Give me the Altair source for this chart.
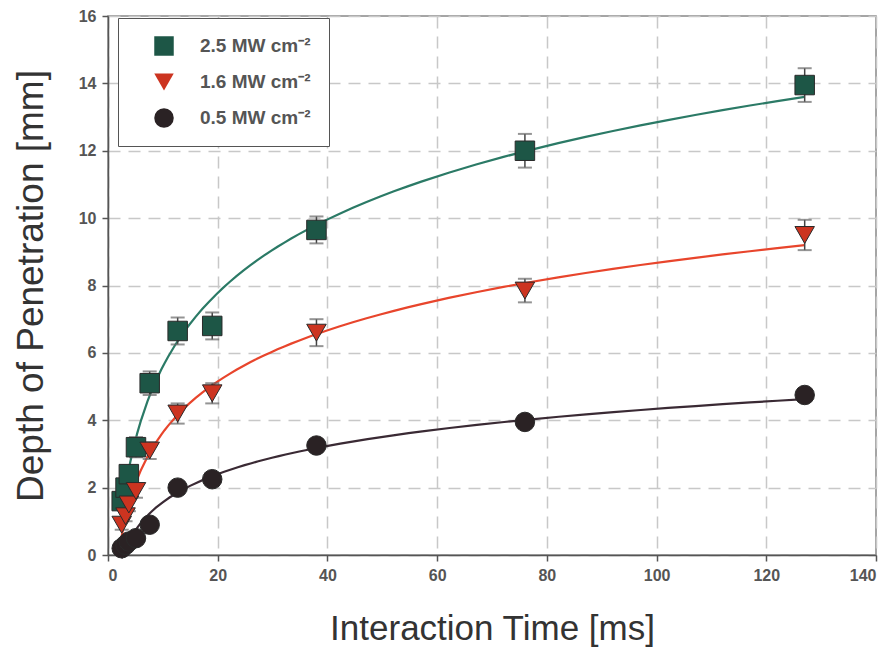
import altair as alt
import pandas as pd

times = [2.5, 3.2, 3.8, 5.1, 7.6, 12.7, 19, 38, 76, 127]
series_names = ["2.5 MW cm⁻²", "1.6 MW cm⁻²", "0.5 MW cm⁻²"]
depth_25 = [1.6, 2.0, 2.4, 3.2, 5.1, 6.65, 6.8, 9.65, 12.0, 13.95]
err_25 = [0.2, 0.2, 0.25, 0.3, 0.35, 0.4, 0.4, 0.4, 0.5, 0.5]
depth_16 = [0.9, 1.15, 1.5, 1.9, 3.1, 4.2, 4.8, 6.6, 7.85, 9.5]
err_16 = [0.15, 0.15, 0.2, 0.2, 0.25, 0.3, 0.3, 0.4, 0.35, 0.45]
depth_05 = [0.2, 0.3, 0.4, 0.5, 0.9, 2.0, 2.25, 3.25, 3.95, 4.75]
err_05 = [0.05, 0.05, 0.05, 0.05, 0.1, 0.1, 0.1, 0.1, 0.1, 0.1]

fill_colors = ["#1d5646", "#cc3420", "#2a2224"]
line_colors = ["#2b7a66", "#e8452c", "#3a2a34"]
shapes = ["square", "triangle-down", "circle"]
fit_start = [2.2, 2.2, 2.5]

rows = []
for name, d, e in zip(series_names, [depth_25, depth_16, depth_05], [err_25, err_16, err_05]):
    for t, v, s in zip(times, d, e):
        rows.append({"series": name, "t": t, "d": v, "lo": v - s, "hi": v + s})
df = pd.DataFrame(rows)

xscale = alt.Scale(domain=[0, 140], nice=False)
yscale = alt.Scale(domain=[0, 16], nice=False)

xaxis = alt.Axis(values=list(range(0, 141, 20)), title="Interaction Time [ms]", grid=True)
yaxis = alt.Axis(values=list(range(0, 17, 2)), title="Depth of Penetration [mm]", grid=True)

base = alt.Chart(df)

lines = []
for name, lc, x0 in zip(series_names, line_colors, fit_start):
    ln = (
        base.transform_filter(alt.datum.series == name)
        .transform_regression("t", "d", method="log", extent=[x0, 127])
        .mark_line(color=lc, strokeWidth=2.2)
        .encode(x=alt.X("t:Q", scale=xscale, axis=xaxis), y=alt.Y("d:Q", scale=yscale, axis=yaxis))
    )
    lines.append(ln)

bars = base.mark_rule(color="#444", strokeWidth=1.5).encode(
    x=alt.X("t:Q", scale=xscale), y=alt.Y("lo:Q", scale=yscale), y2="hi:Q"
)
cap_lo = base.mark_tick(orient="horizontal", size=14, thickness=2, color="#666").encode(
    x=alt.X("t:Q", scale=xscale), y=alt.Y("lo:Q", scale=yscale)
)
cap_hi = base.mark_tick(orient="horizontal", size=14, thickness=2, color="#666").encode(
    x=alt.X("t:Q", scale=xscale), y=alt.Y("hi:Q", scale=yscale)
)

points = base.mark_point(filled=True, size=380, opacity=1, stroke="#2a2a2a", strokeWidth=1).encode(
    x=alt.X("t:Q", scale=xscale),
    y=alt.Y("d:Q", scale=yscale),
    shape=alt.Shape("series:N", scale=alt.Scale(domain=series_names, range=shapes), title=None),
    color=alt.Color("series:N", scale=alt.Scale(domain=series_names, range=fill_colors), title=None),
)

chart = (
    alt.layer(*lines, bars, cap_lo, cap_hi, points)
    .properties(
        width=768,
        height=539,
        autosize=alt.AutoSizeParams(type="none"),
        padding={"left": 108, "top": 16, "right": 20, "bottom": 109},
        background="white",
    )
    .configure_view(stroke="#888", strokeWidth=1.5)
    .configure_axis(
        domainColor="#555",
        domainWidth=1.5,
        tickColor="#555",
        tickWidth=1.5,
        tickSize=6,
        labelFont="Liberation Sans",
        labelFontSize=16,
        labelFontWeight="bold",
        labelColor="#555",
        labelPadding=6,
        gridColor="#c8c8c8",
        gridDash=[12, 8],
        gridWidth=1.5,
        titleFont="Liberation Sans",
        titleFontSize=35,
        titleFontWeight="normal",
        titleColor="#333",
    )
    .configure_axisX(titlePadding=28)
    .configure_axisY(titlePadding=28, titleFontSize=37)
    .configure_legend(
        orient="none",
        legendX=10,
        legendY=2,
        padding=18,
        strokeColor="#555",
        fillColor="white",
        symbolSize=380,
        symbolStrokeWidth=0,
        labelFont="Liberation Sans",
        labelFontSize=19,
        labelFontWeight="bold",
        labelColor="#555",
        rowPadding=16,
        labelOffset=26,
        symbolOffset=18,
        labelLimit=220,
    )
)

chart.save("out.html", embed_options={"renderer": "svg", "actions": False})
